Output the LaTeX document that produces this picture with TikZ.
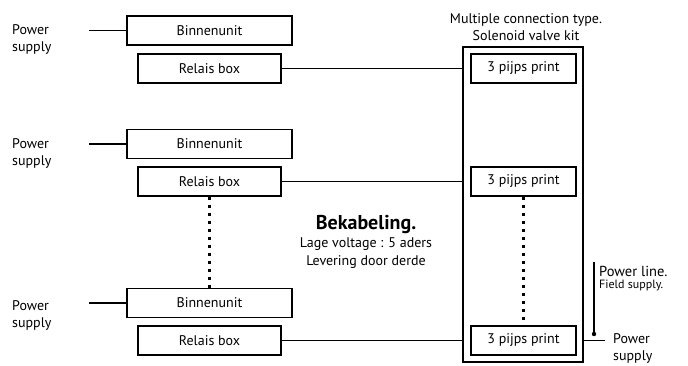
\documentclass[tikz,border=0pt]{standalone}
\usepackage{fontspec}
\setmainfont{PT Sans}
\begin{document}
\begin{tikzpicture}[x=1pt,y=-1pt,
  box/.style={draw,line width=1.2pt,minimum height=29pt,inner sep=0pt,font=\fontsize{14}{15}\selectfont},
  wire/.style={line width=1.2pt},
  dots/.style={line width=2.6pt,dash pattern=on 3pt off 5pt},
  lbl/.style={inner sep=0pt,font=\fontsize{14}{17}\selectfont,align=left}]
\useasboundingbox (0,0) rectangle (688,365);
% left units
\node[box,minimum width=165pt] (b1) at (209.5,30.5) {Binnenunit};
\node[box,minimum width=143pt] (r1) at (209.5,68.5) {Relais box};
\node[box,minimum width=165pt] (b2) at (209.5,144) {Binnenunit};
\node[box,minimum width=143pt] (r2) at (209.5,181.5) {Relais box};
\node[box,minimum width=165pt] (b3) at (209.5,303) {Binnenunit};
\node[box,minimum width=143pt] (r3) at (209.5,340.5) {Relais box};
% power supply labels
\node[lbl,anchor=west] (p1) at (12,39) {Power\\supply};
\node[lbl,anchor=west] (p2) at (12,153) {Power\\supply};
\node[lbl,anchor=west] (p3) at (12,315) {Power\\supply};
\coordinate (c1) at (89,30.5);
\coordinate (c2) at (89,144);
\coordinate (c3) at (89,303);
\draw[wire] (c1) -- (b1.west);
\draw[wire] (c2) -- (b2.west);
\draw[wire] (c3) -- (b3.west);
% solenoid kit
\node[draw,line width=1.2pt,minimum width=120pt,minimum height=315pt,inner sep=0pt] (kit) at (523,204.5) {};
\node[lbl,align=center,anchor=south] (kt) at (526,41) {Multiple connection type.\\Solenoid valve kit};
\node[box,minimum width=105pt] (s1) at (523.5,68.5) {3 pijps print};
\node[box,minimum width=105pt] (s2) at (523.5,181.5) {3 pijps print};
\node[box,minimum width=105pt] (s3) at (523.5,340.5) {3 pijps print};
\draw[wire] (r1.east) -- (r1.east -| kit.west);
\draw[wire] (r2.east) -- (r2.east -| kit.west);
\draw[wire] (r3.east) -- (r3.east -| kit.west);
\draw[dots] (r2.south) -- (b3.north);
\draw[dots] (s2.south) -- (s3.north);
% central text
\node[inner sep=0pt,align=center,font=\fontsize{14}{18}\selectfont] (bk) at (366,242)
  {{\fontsize{20}{20}\selectfont\bfseries Bekabeling.}\\Lage voltage : 5 aders\\Levering door derde};
% power line
\coordinate (pl1) at (594,262);
\coordinate (pl2) at (594,334);
\coordinate (pe) at (605,340.5);
\draw[wire] (pl1) -- (pl2);
\fill (pl2) circle (2.2pt);
\draw[wire] (kit.east |- s3.east) -- (pe);
\node[inner sep=0pt,anchor=west,font=\fontsize{14.5}{16}\selectfont] (plt) at (599,271) {Power line.};
\node[inner sep=0pt,anchor=west,font=\fontsize{12}{13}\selectfont] (fst) at (599,285) {Field supply.};
\node[lbl,anchor=west] (p4) at (613,348) {Power\\supply};
\end{tikzpicture}
\end{document}
